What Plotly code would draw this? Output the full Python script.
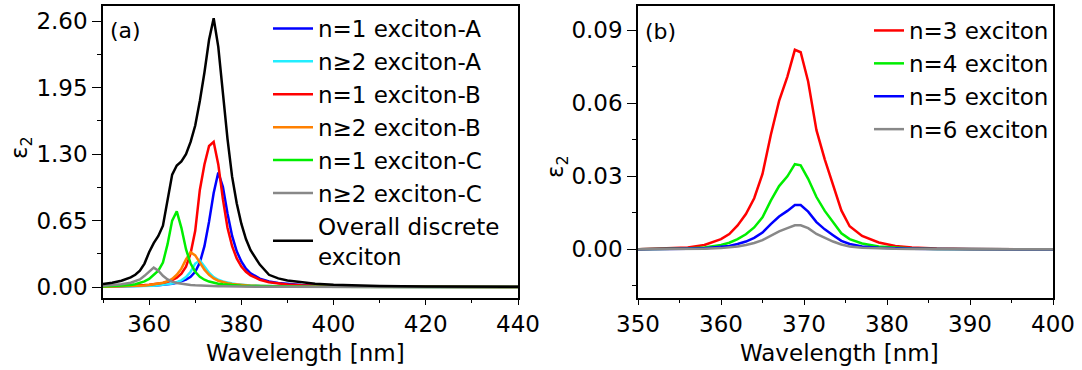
import plotly.graph_objects as go

# ---------------- panel (a): exciton components ----------------
wl_a = [350, 352, 354, 356, 357, 358, 359, 360, 361, 362, 363, 364, 365, 366, 367,
        368, 369, 370, 371, 372, 373, 374, 375, 376, 377, 378, 379, 380, 381, 382,
        384, 386, 388, 390, 393, 396, 400, 405, 410, 420, 430, 440]

n1_a = [0.003, 0.004, 0.005, 0.007, 0.008, 0.009, 0.011, 0.013, 0.015, 0.018, 0.022, 0.027,
        0.033, 0.042, 0.055, 0.073, 0.10, 0.15, 0.24, 0.40, 0.64, 0.92, 1.12, 0.98, 0.72,
        0.50, 0.35, 0.25, 0.18, 0.135, 0.082, 0.055, 0.039, 0.029, 0.020, 0.014, 0.009,
        0.006, 0.004, 0.002, 0.001, 0.001]
n2_a = [0.003, 0.004, 0.005, 0.006, 0.007, 0.008, 0.010, 0.012, 0.014, 0.017, 0.021, 0.027,
        0.035, 0.047, 0.066, 0.098, 0.15, 0.23, 0.26, 0.20, 0.14, 0.098, 0.072, 0.055, 0.043,
        0.034, 0.028, 0.023, 0.019, 0.016, 0.012, 0.009, 0.007, 0.005, 0.004, 0.003, 0.002,
        0.001, 0.001, 0.0, 0.0, 0.0]
n1_b = [0.004, 0.006, 0.008, 0.011, 0.013, 0.016, 0.019, 0.023, 0.027, 0.033, 0.041, 0.052,
        0.068, 0.092, 0.13, 0.20, 0.33, 0.55, 0.95, 1.20, 1.38, 1.42, 1.20, 0.86, 0.58, 0.40,
        0.28, 0.20, 0.15, 0.115, 0.072, 0.048, 0.034, 0.025, 0.017, 0.012, 0.008, 0.005,
        0.004, 0.002, 0.001, 0.001]
n2_b = [0.004, 0.005, 0.007, 0.009, 0.011, 0.013, 0.016, 0.020, 0.025, 0.032, 0.042, 0.057,
        0.080, 0.12, 0.18, 0.27, 0.34, 0.31, 0.24, 0.17, 0.12, 0.085, 0.062, 0.047, 0.037,
        0.029, 0.024, 0.020, 0.017, 0.014, 0.011, 0.008, 0.006, 0.005, 0.004, 0.003, 0.002,
        0.001, 0.001, 0.0, 0.0, 0.0]
n1_c = [0.005, 0.008, 0.012, 0.020, 0.027, 0.038, 0.055, 0.080, 0.12, 0.16, 0.24, 0.42,
        0.65, 0.74, 0.58, 0.37, 0.23, 0.15, 0.10, 0.072, 0.054, 0.042, 0.033, 0.027, 0.022,
        0.018, 0.015, 0.013, 0.011, 0.010, 0.008, 0.006, 0.005, 0.004, 0.003, 0.002, 0.002,
        0.001, 0.001, 0.0, 0.0, 0.0]
n2_c = [0.012, 0.018, 0.027, 0.042, 0.055, 0.075, 0.11, 0.155, 0.19, 0.16, 0.11, 0.075,
        0.053, 0.040, 0.031, 0.025, 0.020, 0.017, 0.014, 0.012, 0.010, 0.009, 0.008, 0.007,
        0.006, 0.005, 0.005, 0.004, 0.004, 0.003, 0.003, 0.002, 0.002, 0.002, 0.001, 0.001,
        0.001, 0.0, 0.0, 0.0, 0.0, 0.0]
overall = [0.030, 0.042, 0.062, 0.095, 0.12, 0.16, 0.23, 0.34, 0.43, 0.50, 0.60, 0.85,
           1.10, 1.19, 1.23, 1.30, 1.42, 1.58, 1.82, 2.10, 2.42, 2.63, 2.35, 1.90, 1.45,
           1.08, 0.82, 0.62, 0.47, 0.36, 0.22, 0.12, 0.085, 0.065, 0.045, 0.032, 0.022,
           0.014, 0.010, 0.005, 0.003, 0.002]

names_a = ["n=1 exciton-A", "n≥2 exciton-A", "n=1 exciton-B", "n≥2 exciton-B",
           "n=1 exciton-C", "n≥2 exciton-C", "Overall discrete<br>exciton"]
colors_a = ["#0000ff", "#22eeff", "#ff0000", "#ff8000", "#00ee00", "#888888", "#000000"]
series_a = [n1_a, n2_a, n1_b, n2_b, n1_c, n2_c, overall]

# ---------------- panel (b): higher Rydberg states ----------------
wl_b = [350, 352, 354, 356, 358, 360, 361, 362, 363, 364, 365, 366, 367, 368, 368.9,
        369.6, 370.5, 371.5, 372.5, 373.5, 374.5, 375.5, 377, 379, 381, 383, 386, 390,
        395, 400]
n3 = [0.0, 0.0002, 0.0004, 0.0008, 0.0018, 0.0042, 0.0063, 0.0098, 0.0145, 0.021, 0.031,
      0.047, 0.061, 0.071, 0.082, 0.081, 0.069, 0.049, 0.037, 0.026, 0.016, 0.0095, 0.0055,
      0.0028, 0.0014, 0.0008, 0.0003, 0.0001, 0.0, 0.0]
n4 = [0.0, 0.0001, 0.0002, 0.0003, 0.0008, 0.0018, 0.0027, 0.0042, 0.0062, 0.009, 0.0132,
      0.020, 0.026, 0.030, 0.035, 0.0345, 0.029, 0.0215, 0.0158, 0.011, 0.0066, 0.0042,
      0.0024, 0.0012, 0.0006, 0.0003, 0.0001, 0.0, 0.0, 0.0]
n5 = [0.0, 0.0, 0.0001, 0.0002, 0.0004, 0.0009, 0.0014, 0.0022, 0.0032, 0.0047, 0.0069,
      0.0104, 0.0135, 0.0158, 0.0182, 0.0182, 0.0155, 0.0112, 0.0082, 0.0058, 0.0035,
      0.0022, 0.0012, 0.0006, 0.0003, 0.0002, 0.0001, 0.0, 0.0, 0.0]
n6 = [0.0, 0.0, 0.0, 0.0001, 0.0002, 0.0005, 0.0008, 0.0012, 0.0018, 0.0026, 0.0038,
      0.0057, 0.0074, 0.0087, 0.0099, 0.0099, 0.0087, 0.0063, 0.0046, 0.0032, 0.002,
      0.0012, 0.0007, 0.0003, 0.0002, 0.0001, 0.0, 0.0, 0.0, 0.0]

names_b = ["n=3 exciton", "n=4 exciton", "n=5 exciton", "n=6 exciton"]
colors_b = ["#ff0000", "#00ee00", "#0000ff", "#888888"]
series_b = [n3, n4, n5, n6]

FONT = "DejaVu Sans"
W, H = 1082, 370

fig = go.Figure()
for name, color, ys in zip(names_a, colors_a, series_a):
    fig.add_trace(go.Scatter(x=wl_a, y=ys, name=name, mode="lines",
                             line=dict(color=color, width=2.5),
                             xaxis="x", yaxis="y", legend="legend"))
for name, color, ys in zip(names_b, colors_b, series_b):
    fig.add_trace(go.Scatter(x=wl_b, y=ys, name=name, mode="lines",
                             line=dict(color=color, width=2.5),
                             xaxis="x2", yaxis="y2", legend="legend2"))

dom_a = [103 / W, 518 / W]
dom_b = [638 / W, 1053 / W]
dom_y = [(H - 298) / H, (H - 6) / H]

tickfont = dict(family=FONT, size=23, color="black")
textfont = dict(family=FONT, size=23, color="black")


def xaxis(domain, anchor, rng, dtick, minor):
    return dict(domain=domain, anchor=anchor, range=rng, dtick=dtick, tick0=0,
                ticks="outside", ticklen=5, tickwidth=1.2, tickcolor="black",
                minor=dict(ticks="outside", ticklen=3, dtick=minor, tickcolor="black", tickwidth=1),
                showline=True, linecolor="black", linewidth=1.5, mirror=True,
                showgrid=False, zeroline=False, tickfont=tickfont, automargin=False)


def yaxis(domain, anchor, rng, dtick, minor):
    return dict(domain=domain, anchor=anchor, range=rng, dtick=dtick, tick0=0,
                tickformat=".2f", ticks="outside", ticklen=9, tickwidth=1.2, tickcolor="black",
                minor=dict(ticks="outside", ticklen=4, dtick=minor, tickcolor="black", tickwidth=1),
                showline=True, linecolor="black", linewidth=1.5, mirror=True,
                showgrid=False, zeroline=False, tickfont=tickfont, automargin=False)


def mirror_axis(overlay, anchor, side, rng, dtick):
    return dict(overlaying=overlay, anchor=anchor, side=side, range=rng, dtick=dtick, tick0=0,
                ticks="outside", ticklen=3, tickwidth=1, tickcolor="black",
                showticklabels=False, showline=False, showgrid=False, zeroline=False)


rng_xa, rng_ya = [350, 440], [-0.107, 2.75]
rng_xb, rng_yb = [350, 400], [-0.02, 0.1]


def label(text, x, y, angle=0, size=23):
    return dict(text=text, x=x / W, y=1 - y / H, xref="paper", yref="paper",
                xanchor="center", yanchor="middle", showarrow=False, textangle=angle,
                font=dict(family=FONT, size=size, color="black"))


fig.update_layout(
    width=W, height=H, margin=dict(l=0, r=0, t=0, b=0),
    paper_bgcolor="white", plot_bgcolor="white",
    font=dict(family=FONT, color="black"),
    xaxis=xaxis(dom_a, "y", rng_xa, 20, 10),
    yaxis=yaxis(dom_y, "x", rng_ya, 0.65, 0.325),
    xaxis2=xaxis(dom_b, "y2", rng_xb, 10, 5),
    yaxis2=yaxis(dom_y, "x2", rng_yb, 0.03, 0.015),
    xaxis3=mirror_axis("x", "y", "top", rng_xa, 10),
    yaxis3=mirror_axis("y", "x", "right", rng_ya, 0.325),
    xaxis4=mirror_axis("x2", "y2", "top", rng_xb, 5),
    yaxis4=mirror_axis("y2", "x2", "right", rng_yb, 0.015),
    legend=dict(x=268 / W, y=1 - 7 / H, xanchor="left", yanchor="top",
                bgcolor="rgba(0,0,0,0)", borderwidth=0, itemwidth=40,
                font=dict(family=FONT, size=23, color="black")),
    legend2=dict(x=869 / W, y=1 - 9 / H, xanchor="left", yanchor="top",
                 bgcolor="rgba(0,0,0,0)", borderwidth=0, itemwidth=30,
                 font=dict(family=FONT, size=23, color="black")),
    annotations=[
        label("(a)", 125, 30, size=22),
        label("(b)", 660, 31, size=22),
        label("Wavelength [nm]", 305, 353),
        label("Wavelength [nm]", 840, 353),
        label("ε<sub>2</sub>", 21, 148, angle=-90),
        label("ε<sub>2</sub>", 557, 167, angle=-90),
    ],
)

fig.write_html("out.html")
